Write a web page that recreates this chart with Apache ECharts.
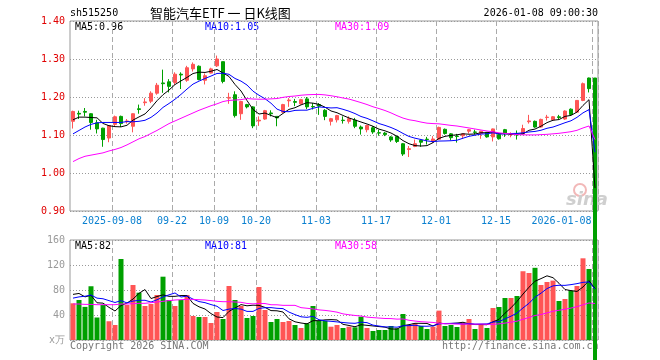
<!DOCTYPE html>
<html>
<head>
<meta charset="utf-8">
<script src="https://cdn.jsdelivr.net/npm/echarts@6/dist/echarts.min.js"></script>
<style>
html,body{margin:0;padding:0;background:#fff;}
#c{width:660px;height:360px;}
</style>
</head>
<body>
<div id="c"></div>
<script>
// ---------- data ----------
const dates = [
 '2025-08-28','2025-08-29','2025-09-01','2025-09-02','2025-09-03','2025-09-04','2025-09-05',
 '2025-09-08','2025-09-09','2025-09-10','2025-09-11','2025-09-12',
 '2025-09-15','2025-09-16','2025-09-17','2025-09-18','2025-09-19',
 '2025-09-22','2025-09-23','2025-09-24','2025-09-25','2025-09-26',
 '2025-09-29','2025-09-30','2025-10-09','2025-10-10',
 '2025-10-13','2025-10-14','2025-10-15','2025-10-16','2025-10-17',
 '2025-10-20','2025-10-21','2025-10-22','2025-10-23','2025-10-24',
 '2025-10-27','2025-10-28','2025-10-29','2025-10-30','2025-10-31',
 '2025-11-03','2025-11-04','2025-11-05','2025-11-06','2025-11-07',
 '2025-11-10','2025-11-11','2025-11-12','2025-11-13','2025-11-14',
 '2025-11-17','2025-11-18','2025-11-19','2025-11-20','2025-11-21',
 '2025-11-24','2025-11-25','2025-11-26','2025-11-27','2025-11-28',
 '2025-12-01','2025-12-02','2025-12-03','2025-12-04','2025-12-05',
 '2025-12-08','2025-12-09','2025-12-10','2025-12-11','2025-12-12',
 '2025-12-15','2025-12-16','2025-12-17','2025-12-18','2025-12-19',
 '2025-12-22','2025-12-23','2025-12-24','2025-12-25','2025-12-26',
 '2025-12-29','2025-12-30','2025-12-31',
 '2026-01-05','2026-01-06','2026-01-07','2026-01-08'
];
const opens = [1.136,1.157,1.162,1.156,1.132,1.118,1.092,1.128,1.149,1.135,
 1.123,1.169,1.185,1.189,1.210,1.237,1.240,1.238,1.260,1.244,
 1.274,1.281,1.244,1.263,1.282,1.293,1.197,1.206,1.156,1.180,
 1.174,1.137,1.142,1.158,1.149,1.160,1.190,1.188,1.182,1.195,
 1.175,1.180,1.165,1.136,1.140,1.139,1.136,1.139,1.121,1.114,
 1.119,1.106,1.105,1.095,1.096,1.077,1.062,1.070,1.086,1.089,
 1.083,1.089,1.115,1.103,1.097,1.098,1.110,1.108,1.104,1.107,
 1.095,1.101,1.114,1.101,1.102,1.103,1.135,1.136,1.121,1.146,
 1.140,1.148,1.142,1.168,1.160,1.191,1.250,1.250];
const closes = [1.162,1.155,1.160,1.133,1.116,1.088,1.125,1.148,1.130,1.137,
 1.156,1.167,1.187,1.210,1.231,1.235,1.228,1.260,1.258,1.277,
 1.286,1.246,1.256,1.274,1.300,1.241,1.199,1.151,1.188,1.174,
 1.124,1.139,1.164,1.156,1.145,1.180,1.192,1.186,1.193,1.174,
 1.174,1.176,1.149,1.143,1.151,1.138,1.143,1.123,1.116,1.125,
 1.108,1.105,1.101,1.087,1.083,1.050,1.064,1.077,1.081,1.088,
 1.0895,1.120,1.104,1.093,1.096,1.103,1.114,1.107,1.110,1.095,
 1.116,1.090,1.105,1.103,1.100,1.117,1.137,1.121,1.141,1.147,
 1.148,1.146,1.163,1.154,1.191,1.235,1.222,0];
const lows = [1.117,1.142,1.149,1.114,1.104,1.069,1.081,1.121,1.121,1.130,
 1.107,1.156,1.177,1.184,1.206,1.211,1.212,1.232,1.221,1.240,
 1.267,1.244,1.233,1.262,1.279,1.236,1.182,1.146,1.140,1.170,
 1.118,1.124,1.140,1.149,1.123,1.158,1.174,1.176,1.180,1.168,
 1.167,1.153,1.139,1.125,1.133,1.130,1.130,1.118,1.101,1.107,
 1.103,1.098,1.097,1.082,1.079,1.045,1.042,1.068,1.069,1.075,
 1.079,1.088,1.101,1.086,1.080,1.090,1.104,1.101,1.090,1.093,
 1.083,1.088,1.095,1.094,1.088,1.102,1.130,1.119,1.119,1.138,
 1.138,1.141,1.140,1.152,1.158,1.189,1.212,0];
const highs = [1.164,1.164,1.171,1.157,1.140,1.119,1.126,1.151,1.151,1.142,
 1.157,1.180,1.197,1.215,1.237,1.272,1.247,1.265,1.265,1.282,
 1.291,1.283,1.262,1.277,1.309,1.293,1.211,1.215,1.190,1.182,
 1.176,1.149,1.166,1.165,1.150,1.182,1.197,1.195,1.195,1.200,
 1.184,1.184,1.168,1.145,1.153,1.149,1.149,1.145,1.125,1.127,
 1.123,1.114,1.108,1.097,1.098,1.079,1.071,1.088,1.088,1.095,
 1.097,1.122,1.117,1.105,1.103,1.104,1.116,1.114,1.111,1.108,
 1.117,1.102,1.116,1.107,1.112,1.127,1.153,1.138,1.143,1.153,
 1.150,1.153,1.165,1.170,1.192,1.238,1.251,1.250];
const volumes = [58.7,64,53,86,36,56,30,24,129.6,56,
 88,75.7,54.4,57.6,72,101.3,64,54.4,64,72,
 38.4,36.8,36.8,27.2,44.8,33.6,86.4,64,54.4,35.2,
 38.4,84.8,48,28.8,33.6,28.8,30.4,24,19.2,26.7,
 54.4,30.4,30.4,21.3,24,19.2,21.3,20.3,37.3,19.2,
 14.4,16,16,22.4,18.7,41.6,24,26.7,22.4,17.6,
 21.3,47,22.4,24,20.8,27.7,33.6,17.6,24,19.2,
 51.2,52.8,67.2,67.2,70.4,110,107.2,115.5,88,92.8,
 95,62.4,65.6,79,86.4,130.7,113.6,0];
const ma5Head = [1.140,1.147,1.147,1.146];
const ma10Head = [1.103,1.112,1.121,1.128,1.132,1.133,1.133,1.133,1.133];
const ma30Head = [1.030,1.038,1.044,1.047,1.050,1.053,1.058,1.062,1.067,1.074,
 1.082,1.090,1.096,1.104,1.112,1.121,1.130,1.137,1.144,1.151,
 1.158,1.165,1.171,1.177,1.182,1.188,1.191,1.192,1.193];
const vma5Head = [73,74.5,69,71.5];
const vma10Head = [67,69,70,72,67,66,63,60,63];
const vma30Head = [57.6,57.6,57,57,56.5,56.5,56.5,56.5,57.6,57.6,
 58.1,58.7,58.7,59.7,60.8,61.9,63,64,64.5,65,
 65,64.5,64,63,61.9,61.3,61.3,60.8,60.3];
const tickDates = ['2025-09-08','2025-09-22','2025-10-09','2025-10-20','2025-11-03','2025-11-17','2025-12-01','2025-12-15','2026-01-08'];
const tickTexts = ['2025-09-08','09-22','10-09','10-20','11-03','11-17','12-01','12-15','2026-01-08'];

// ---------- helpers ----------
function movingAvg(vals, n, head){
  return vals.map((v,i)=>{
    if(i < n-1) return head[i];
    let s=0; for(let k=i-n+1;k<=i;k++) s+=vals[k];
    return s/n;
  });
}
const ma5 = movingAvg(closes,5,ma5Head), ma10 = movingAvg(closes,10,ma10Head), ma30 = movingAvg(closes,30,ma30Head);
const vma5 = movingAvg(volumes,5,vma5Head), vma10 = movingAvg(volumes,10,vma10Head), vma30 = movingAvg(volumes,30,vma30Head);
const last = dates.length-1;

const RED='#ff5555', GREEN='#00a000';
const MONO='"DejaVu Sans Mono", monospace';
const tickIdx = new Set(tickDates.map(d=>dates.indexOf(d)));
const kData = dates.map((d,i)=>[opens[i],closes[i],lows[i],highs[i]]);
const volData = volumes.map((v,i)=>({value:v,itemStyle:{color: closes[i]>=opens[i]?RED:GREEN}}));

const chart = echarts.init(document.getElementById('c'), null, {renderer:'canvas'});
const gridLine = {show:true, interval:(i)=>tickIdx.has(i), lineStyle:{color:'#aaaaaa', type:[5,3], width:1}};
function txt(x,y,text,color,font,align){
  return {type:'text', x:x, y:y, z:0, silent:true,
    style:{text:text, fill:color, font:font||('10px '+MONO), align:align||'left', verticalAlign:'middle'}};
}
const option = {
  animation:false,
  backgroundColor:'#fff',
  grid:[
    {left:70, top:21, width:528, height:190, show:true, borderColor:'#999', borderWidth:1, backgroundColor:'transparent'},
    {left:70, top:240, width:528, height:100, show:true, borderColor:'#999', borderWidth:1, backgroundColor:'transparent'}
  ],
  xAxis:[
    {type:'category', gridIndex:0, data:dates, boundaryGap:true,
     axisLine:{show:false}, axisTick:{show:false},
     axisLabel:{interval:(i)=>tickIdx.has(i), margin:5,
       formatter:(v,i)=>{const k=tickDates.indexOf(v); const t=tickTexts[k]; return k===tickDates.length-1?'{b|'+t+'}':'{a|'+t+'}';},
       rich:{a:{color:'#0a80d0', fontFamily:MONO, fontSize:10, padding:[0,6,0,0]},
             b:{color:'#0a80d0', fontFamily:MONO, fontSize:10, padding:[0,67,0,0]}}},
     splitLine:gridLine},
    {type:'category', gridIndex:1, data:dates, boundaryGap:true,
     axisLine:{show:false}, axisTick:{show:false}, axisLabel:{show:false},
     splitLine:gridLine}
  ],
  yAxis:[
    {type:'value', gridIndex:0, min:0.9, max:1.4, interval:0.1, scale:true,
     axisLine:{show:false}, axisTick:{show:false},
     axisLabel:{color:'#e00000', fontFamily:MONO, fontSize:10, margin:5, formatter:v=>v.toFixed(2)},
     splitLine:{lineStyle:{color:'#999', type:[1,2]}}},
    {type:'value', gridIndex:1, min:0, max:160, interval:40,
     axisLine:{show:false}, axisTick:{show:false},
     axisLabel:{color:'#9a9a9a', fontFamily:MONO, fontSize:10, margin:5, formatter:v=>v===0?'x万':String(v)},
     splitLine:{lineStyle:{color:'#999', type:[1,2]}}}
  ],
  series:[
    {type:'candlestick', xAxisIndex:0, yAxisIndex:0, data:kData, clip:false, barWidth:4,
     itemStyle:{color:RED, color0:GREEN, borderColor:RED, borderColor0:GREEN, borderWidth:1}, z:2},
    {type:'line', xAxisIndex:0, yAxisIndex:0, data:ma5, showSymbol:false, lineStyle:{color:'#000', width:1}, z:3},
    {type:'line', xAxisIndex:0, yAxisIndex:0, data:ma10, showSymbol:false, lineStyle:{color:'#0000ff', width:1}, z:3},
    {type:'line', xAxisIndex:0, yAxisIndex:0, data:ma30, showSymbol:false, lineStyle:{color:'#ff00ff', width:1}, z:3},
    {type:'bar', xAxisIndex:1, yAxisIndex:1, data:volData, barWidth:5, z:1},
    {type:'line', xAxisIndex:1, yAxisIndex:1, data:vma5, showSymbol:false, lineStyle:{color:'#000', width:1}, z:3},
    {type:'line', xAxisIndex:1, yAxisIndex:1, data:vma10, showSymbol:false, lineStyle:{color:'#0000ff', width:1}, z:3},
    {type:'line', xAxisIndex:1, yAxisIndex:1, data:vma30, showSymbol:false, lineStyle:{color:'#ff00ff', width:1}, z:3}
  ],
  graphic:[
    txt(70,13,'sh515250','#000'),
    txt(150,13,'智能汽车ETF 一 日K线图','#000','13px "Noto Sans CJK SC"'),
    txt(598,13,'2026-01-08 09:00:30','#000','10px '+MONO,'right'),
    txt(75,27,'MA5:'+ma5[last].toFixed(2),'#000'),
    txt(205,27,'MA10:'+ma10[last].toFixed(2),'#0000ff'),
    txt(335,27,'MA30:'+ma30[last].toFixed(2),'#ff00ff'),
    txt(75,246,'MA5:'+Math.round(vma5[last]),'#000'),
    txt(205,246,'MA10:'+Math.round(vma10[last]),'#0000ff'),
    txt(335,246,'MA30:'+Math.round(vma30[last]),'#ff00ff'),
    txt(70,346,'Copyright 2026 SINA.COM','#777'),
    txt(442,346,'http://finance.sina.com.cn','#777'),
    {type:'circle', z:0, silent:true, shape:{cx:580,cy:190,r:6}, style:{fill:'none', stroke:'#f2b8b8', lineWidth:2}},
    {type:'text', x:566, y:200, z:0, silent:true, style:{text:'sina', fill:'#cfcfcf', font:'italic bold 18px "DejaVu Sans"', verticalAlign:'middle'}}
  ]
};
chart.setOption(option);
</script>
</body>
</html>
